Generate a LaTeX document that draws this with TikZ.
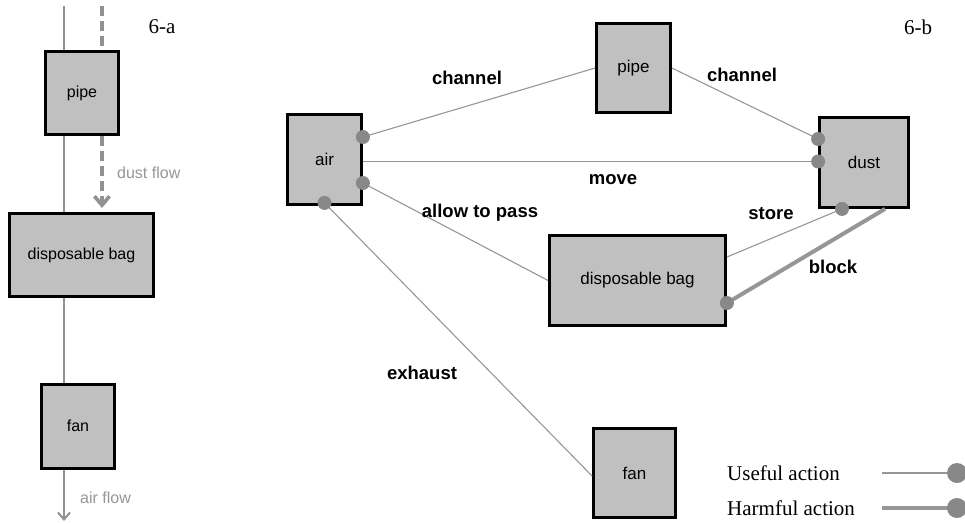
\documentclass[tikz,border=0pt]{standalone}
\usepackage{fontspec}
\setmainfont{Liberation Serif}
\setsansfont{Liberation Sans}
\usetikzlibrary{arrows.meta,calc}
\definecolor{boxgray}{RGB}{192,192,192}
\definecolor{linegray}{RGB}{145,145,145}
\definecolor{conngray}{RGB}{150,150,150}
\definecolor{dotgray}{RGB}{136,136,136}
\definecolor{labgray}{RGB}{150,150,150}
\begin{document}
\begin{tikzpicture}[x=1pt,y=-1pt,
  box/.style={draw=black, line width=3pt, fill=boxgray, inner sep=0pt,
    font=\sffamily\fontsize{16}{18}\selectfont},
  rbox/.style={box, line width=2.8pt, font=\sffamily\fontsize{17}{19}\selectfont},
  flowline/.style={draw=linegray, line width=2.5pt},
  dashflow/.style={draw=linegray, line width=3.3pt, dash pattern=on 10pt off 5pt},
  flowlab/.style={text=labgray, font=\sffamily\fontsize{16}{18}\selectfont, anchor=west, inner sep=0pt},
  useful/.style={draw=conngray, line width=1.1pt},
  harmful/.style={draw=conngray, line width=4pt},
  actlab/.style={font=\sffamily\bfseries\fontsize{18.5}{20}\selectfont, inner sep=0pt},
  panellab/.style={font=\rmfamily\fontsize{21}{23}\selectfont, inner sep=0pt},
  leglab/.style={font=\rmfamily\fontsize{21}{23}\selectfont, inner sep=0pt, anchor=west},
  dot/.style={fill=dotgray},
]
\useasboundingbox (0,0) rectangle (965,523);

% ---------------- panel 6-a ----------------
\node[box, minimum width=73pt, minimum height=83pt] (pipeA) at (82,93) {pipe};
\node[box, minimum width=144pt, minimum height=83pt] (bagA) at (81.5,255) {disposable bag};
\node[box, minimum width=73pt, minimum height=84pt] (fanA) at (78,426) {fan};
\node[panellab] (la) at (162,27) {6-a};

\coordinate (topA) at (64,6);
\coordinate (botA) at (64,521);
\coordinate (topD) at (102,6);

\draw[flowline] (topA) -- (topA |- pipeA.north);
\draw[flowline] (topA |- pipeA.south) -- (topA |- bagA.north);
\draw[flowline] (topA |- bagA.south) -- (topA |- fanA.north);
\draw[flowline, -{Straight Barb[length=7pt,width=12pt,line width=2pt]}] (topA |- fanA.south) -- (botA);

\draw[dashflow] (topD) -- (topD |- pipeA.north);
\draw[dashflow, -{Straight Barb[length=9pt,width=15pt,line width=3.6pt]}] (topD |- pipeA.south) -- ([yshift=4pt]topD |- bagA.north);

\node[flowlab] (dflow) at (117,173) {dust flow};
\node[flowlab] (aflow) at (80,498) {air flow};

% ---------------- panel 6-b ----------------
\node[rbox, minimum width=74pt, minimum height=90pt] (air) at (324.5,159.5) {air};
\node[rbox, minimum width=74pt, minimum height=89pt] (pipe) at (633.5,68) {pipe};
\node[rbox, minimum width=89pt, minimum height=90pt] (dust) at (864,162.5) {dust};
\node[rbox, minimum width=176pt, minimum height=90pt] (bag) at (637.5,280.5) {disposable bag};
\node[rbox, minimum width=82pt, minimum height=89pt] (fan) at (634.5,473) {fan};
\node[panellab] (lb) at (918,27) {6-b};

% connection points
\coordinate (a1) at ([yshift=22.5pt]air.east);
\coordinate (a2) at ([yshift=-23.5pt]air.east);
\coordinate (a3) at ([yshift=3pt]air.south);
\coordinate (d1) at ([yshift=23.5pt]dust.west);
\coordinate (d2) at ([yshift=1pt]dust.west);
\coordinate (d3) at ([xshift=-22pt]dust.south);
\coordinate (d4) at ([xshift=21pt]dust.south);
\coordinate (b1) at ([yshift=23.5pt]bag.east);
\coordinate (b2) at ([yshift=-22.5pt]bag.east);

\draw[useful] (a1) -- (pipe.west);
\draw[useful] (pipe.east) -- (d1);
\draw[useful] (air.east |- d2) -- (d2);
\draw[useful] (a2) -- (bag.west);
\draw[useful] (a3) -- ([yshift=-3pt]fan.west);
\draw[useful] (b1) -- (d3);
\draw[harmful] (d4) -- (b2);

\foreach \p in {a1,a2,a3,d1,d2,d3,b2} \fill[dot] (\p) circle (7pt);

\node[actlab] (lch1) at (467,78) {channel};
\node[actlab] (lch2) at (742,75) {channel};
\node[actlab] (lmove) at (613,180) {move};
\node[actlab] (lallow) at (480,213) {allow to pass};
\node[actlab] (lstore) at (771,214) {store};
\node[actlab] (lblock) at (833,267) {block};
\node[actlab] (lexh) at (422,373) {exhaust};

% legend
\node[leglab] (lu) at (727,473) {Useful action};
\node[leglab] (lh) at (727,508) {Harmful action};
\coordinate (u0) at (882,473);
\coordinate (u1) at (957,473);
\coordinate (h0) at (882,508);
\coordinate (h1) at (957,508);
\draw[useful, line width=2pt] (u0) -- (u1);
\draw[harmful] (h0) -- (h1);
\fill[dot] (u1) circle (10pt);
\fill[dot] (h1) circle (10pt);
\end{tikzpicture}
\end{document}
